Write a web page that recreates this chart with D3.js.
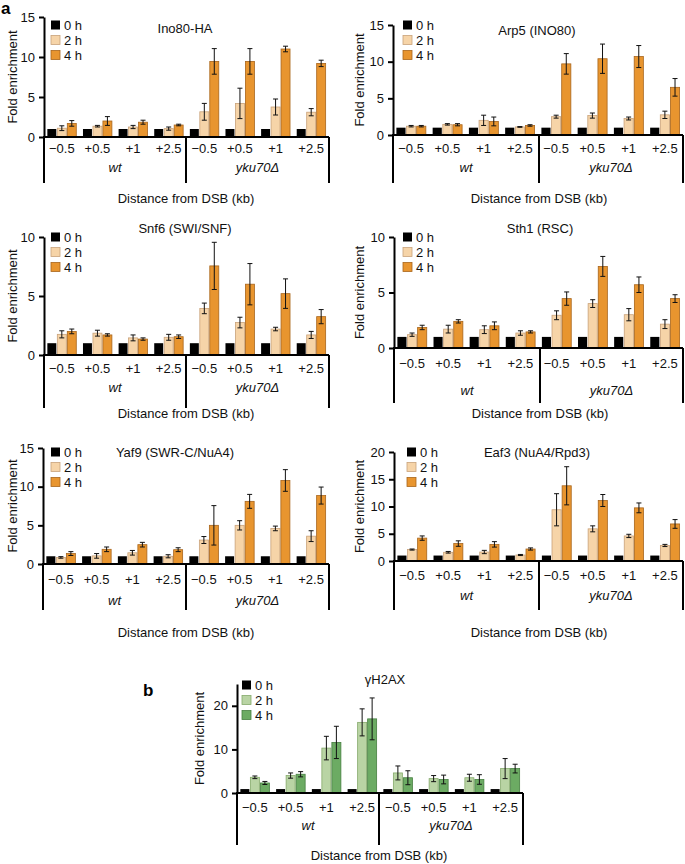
<!DOCTYPE html>
<html>
<head>
<meta charset="utf-8">
<script src="https://cdn.jsdelivr.net/npm/d3@7"></script>
<style>
  body { margin: 0; background: #fff; }
  svg { display: block; font-family: "Liberation Sans", Arial, sans-serif; }
</style>
</head>
<body>
<svg id="fig" width="685" height="864"></svg>
<script>
// categories
const positions = ["\u22120.5", "+0.5", "+1", "+2.5"];
const strains = ["wt", "yku70\u0394"];
const timepoints = ["0 h", "2 h", "4 h"];

// values: 8 entries each, wt (-0.5,+0.5,+1,+2.5) then yku70 (same)
const ino80Mean0h = [1, 1, 1, 1, 1, 1, 1, 1];
const ino80Mean2h = [1.1, 1.35, 1.25, 1.05, 3.15, 4.2, 3.75, 3.1];
const ino80Err2h  = [0.3, 0.1, 0.2, 0.2, 1.05, 1.9, 1.0, 0.45];
const ino80Mean4h = [1.7, 2.0, 1.85, 1.5, 9.45, 9.45, 11.0, 9.2];
const ino80Err4h  = [0.35, 0.55, 0.25, 0.1, 1.6, 1.6, 0.35, 0.4];

const arp5Mean0h = [1, 1, 1, 1, 1, 1, 1, 1];
const arp5Mean2h = [1.2, 1.45, 2.0, 1.1, 2.5, 2.65, 2.25, 2.75];
const arp5Err2h  = [0.1, 0.1, 0.7, 0.05, 0.2, 0.35, 0.2, 0.5];
const arp5Mean4h = [1.2, 1.4, 1.85, 1.3, 9.7, 10.4, 10.7, 6.5];
const arp5Err4h  = [0.1, 0.15, 0.6, 0.1, 1.4, 2.0, 1.5, 1.2];

const snf6Mean0h = [1, 1, 1, 1, 1, 1, 1, 1];
const snf6Mean2h = [1.75, 1.85, 1.45, 1.5, 3.95, 2.75, 2.2, 1.7];
const snf6Err2h  = [0.3, 0.25, 0.25, 0.25, 0.45, 0.45, 0.15, 0.3];
const snf6Mean4h = [2.0, 1.7, 1.35, 1.55, 7.55, 6.0, 5.2, 3.25];
const snf6Err4h  = [0.2, 0.1, 0.1, 0.15, 2.0, 1.75, 1.25, 0.6];

const sth1Mean0h = [1, 1, 1, 1, 1, 1, 1, 1];
const sth1Mean2h = [1.2, 1.7, 1.65, 1.35, 2.95, 4.0, 3.0, 2.15];
const sth1Err2h  = [0.15, 0.35, 0.35, 0.2, 0.4, 0.35, 0.55, 0.4];
const sth1Mean4h = [1.85, 2.4, 2.0, 1.45, 4.45, 7.35, 5.7, 4.45];
const sth1Err4h  = [0.2, 0.15, 0.35, 0.1, 0.6, 0.9, 0.7, 0.35];

const yaf9Mean0h = [1, 1, 1, 1, 1, 1, 1, 1];
const yaf9Mean2h = [0.85, 1.05, 1.45, 1.0, 3.1, 5.0, 4.6, 3.6];
const yaf9Err2h  = [0.1, 0.3, 0.3, 0.2, 0.45, 0.6, 0.3, 0.7];
const yaf9Mean4h = [1.35, 1.9, 2.5, 1.85, 5.0, 8.1, 10.8, 8.85];
const yaf9Err4h  = [0.25, 0.3, 0.3, 0.25, 2.55, 0.9, 1.4, 1.1];

const eaf3Mean0h = [1, 1, 1, 1, 1, 1, 1, 1];
const eaf3Mean2h = [2.1, 1.6, 1.65, 1.1, 9.4, 5.9, 4.6, 2.85];
const eaf3Err2h  = [0.1, 0.15, 0.3, 0.1, 2.95, 0.55, 0.3, 0.2];
const eaf3Mean4h = [4.2, 3.2, 3.05, 2.2, 13.8, 11.1, 9.75, 6.8];
const eaf3Err4h  = [0.4, 0.5, 0.5, 0.2, 3.5, 1.1, 0.9, 0.8];

const h2axMean0h = [0.9, 0.9, 0.9, 0.9, 0.9, 0.9, 0.9, 0.9];
const h2axMean2h = [3.6, 4.0, 10.3, 16.2, 4.6, 3.3, 3.5, 5.6];
const h2axErr2h  = [0.3, 0.6, 2.7, 3.1, 1.6, 0.7, 0.8, 2.3];
const h2axMean4h = [2.3, 4.3, 11.6, 17.0, 3.5, 3.1, 3.1, 5.6];
const h2axErr4h  = [0.35, 0.6, 3.7, 4.8, 1.6, 1.0, 1.1, 1.0];

const orange = { fill: ["#000000", "#f6d4a8", "#e8952f"], stroke: ["#000000", "#c9a27a", "#a8651c"] };
const green  = { fill: ["#000000", "#b9d4a4", "#6cab63"], stroke: ["#000000", "#86aa6c", "#467f40"] };

const panels = [
  { title: "Ino80-HA", m0: ino80Mean0h, m2: ino80Mean2h, e2: ino80Err2h, m4: ino80Mean4h, e4: ino80Err4h,
    max: 15, ticks: [0, 5, 10, 15], left: 44, right: 329, y0: 137, yTop: 17, sep: 186, bottom: 183,
    tickY: 148, strainY: 167, axTitleY: 198, titleX: 185, titleY: 28, legX: 51, legY: 25, ylabX: 12, pal: orange },
  { title: "Arp5 (INO80)", m0: arp5Mean0h, m2: arp5Mean2h, e2: arp5Err2h, m4: arp5Mean4h, e4: arp5Err4h,
    max: 15, ticks: [0, 5, 10, 15], left: 393, right: 683, y0: 135, yTop: 25, sep: 539, bottom: 183,
    tickY: 148, strainY: 167, axTitleY: 198, titleX: 537, titleY: 30, legX: 403, legY: 25, ylabX: 359, pal: orange },
  { title: "Snf6 (SWI/SNF)", m0: snf6Mean0h, m2: snf6Mean2h, e2: snf6Err2h, m4: snf6Mean4h, e4: snf6Err4h,
    max: 10, ticks: [0, 5, 10], left: 44, right: 329, y0: 355, yTop: 237, sep: 186, bottom: 408,
    tickY: 368, strainY: 387, axTitleY: 413, titleX: 185, titleY: 228, legX: 51, legY: 237, ylabX: 12, pal: orange },
  { title: "Sth1 (RSC)", m0: sth1Mean0h, m2: sth1Mean2h, e2: sth1Err2h, m4: sth1Mean4h, e4: sth1Err4h,
    max: 10, ticks: [0, 5, 10], left: 394, right: 683, y0: 348, yTop: 237, sep: 540, bottom: 403,
    tickY: 363, strainY: 390, axTitleY: 413, titleX: 540, titleY: 228, legX: 403, legY: 237, ylabX: 359, pal: orange },
  { title: "Yaf9 (SWR-C/NuA4)", m0: yaf9Mean0h, m2: yaf9Mean2h, e2: yaf9Err2h, m4: yaf9Mean4h, e4: yaf9Err4h,
    max: 15, ticks: [0, 5, 10, 15], left: 43, right: 329, y0: 564, yTop: 448, sep: 186, bottom: 610,
    tickY: 579, strainY: 600, axTitleY: 632, titleX: 175, titleY: 452, legX: 51, legY: 452, ylabX: 12, pal: orange },
  { title: "Eaf3 (NuA4/Rpd3)", m0: eaf3Mean0h, m2: eaf3Mean2h, e2: eaf3Err2h, m4: eaf3Mean4h, e4: eaf3Err4h,
    max: 20, ticks: [0, 5, 10, 15, 20], left: 394, right: 683, y0: 561, yTop: 452, sep: 539, bottom: 610,
    tickY: 575, strainY: 595, axTitleY: 632, titleX: 537, titleY: 452, legX: 407, legY: 452, ylabX: 359, pal: orange },
  { title: "\u03b3H2AX", m0: h2axMean0h, m2: h2axMean2h, e2: h2axErr2h, m4: h2axMean4h, e4: h2axErr4h,
    max: 25, ticks: [0, 10, 20], left: 237, right: 523, y0: 793, yTop: 684, sep: 379, bottom: 845,
    tickY: 807, strainY: 825, axTitleY: 855, titleX: 385, titleY: 679, legX: 242, legY: 685, ylabX: 199, pal: green }
];

const svg = d3.select("#fig");
const fs = 13;

function drawPanel(p) {
  const g = svg.append("g");
  const keys = strains.flatMap(s => positions.map(pos => s + "|" + pos));
  const x = d3.scaleBand().domain(keys).range([p.left, p.right]).paddingInner(0.16).paddingOuter(0.08);
  const xs = d3.scaleBand().domain(timepoints).range([0, x.bandwidth()]);
  const y = d3.scaleLinear().domain([0, p.max]).range([p.y0, p.yTop]);

  const means = [p.m0, p.m2, p.m4];
  const errs = [null, p.e2, p.e4];
  const rows = [];
  keys.forEach((k, i) => timepoints.forEach((t, j) => {
    rows.push({ k, t, j, v: means[j][i], e: errs[j] ? errs[j][i] : 0 });
  }));

  g.selectAll("rect.bar").data(rows).join("rect")
    .attr("class", "bar")
    .attr("x", d => x(d.k) + xs(d.t) + 0.5)
    .attr("y", d => y(d.v))
    .attr("width", xs.bandwidth() - 1)
    .attr("height", d => y(0) - y(d.v))
    .attr("fill", d => p.pal.fill[d.j])
    .attr("stroke", d => p.pal.stroke[d.j])
    .attr("stroke-width", d => d.j ? 0.8 : 0);

  const eb = rows.filter(d => d.j > 0);
  const cx = d => x(d.k) + xs(d.t) + xs.bandwidth() / 2;
  g.selectAll("line.err").data(eb).join("line")
    .attr("x1", cx).attr("x2", cx)
    .attr("y1", d => y(d.v - d.e)).attr("y2", d => y(d.v + d.e))
    .attr("stroke", "#111").attr("stroke-width", 1);
  ["lo", "hi"].forEach(side => {
    g.selectAll("line.cap" + side).data(eb).join("line")
      .attr("x1", d => cx(d) - 2.5).attr("x2", d => cx(d) + 2.5)
      .attr("y1", d => y(side === "lo" ? d.v - d.e : d.v + d.e))
      .attr("y2", d => y(side === "lo" ? d.v - d.e : d.v + d.e))
      .attr("stroke", "#111").attr("stroke-width", 1);
  });

  // y axis
  const ya = g.append("g").attr("transform", `translate(${p.left},0)`)
    .call(d3.axisLeft(y).tickValues(p.ticks).tickSize(5).tickPadding(4).tickSizeOuter(0));
  ya.select(".domain").attr("stroke-width", 2);
  ya.selectAll(".tick line").attr("stroke-width", 2);
  ya.selectAll("text").attr("font-size", fs).attr("font-family", "Liberation Sans, Arial, sans-serif").attr("fill", "#111");

  // baseline + bracket verticals
  g.append("line").attr("x1", p.left - 1).attr("x2", p.right).attr("y1", p.y0).attr("y2", p.y0)
    .attr("stroke", "#000").attr("stroke-width", 2);
  [p.left, p.sep, p.right].forEach(xv => {
    g.append("line").attr("x1", xv).attr("x2", xv).attr("y1", p.y0).attr("y2", p.bottom)
      .attr("stroke", "#000").attr("stroke-width", 2);
  });

  // category labels
  g.selectAll("text.pos").data(keys).join("text")
    .attr("x", k => x(k) + x.bandwidth() / 2)
    .attr("y", p.tickY).attr("dy", "0.35em")
    .attr("text-anchor", "middle").attr("font-size", fs).attr("fill", "#111")
    .text(k => k.split("|")[1]);
  g.selectAll("text.strain").data(strains).join("text")
    .attr("x", (s, i) => i === 0 ? (p.left + p.sep) / 2 : (p.sep + p.right) / 2)
    .attr("y", p.strainY).attr("dy", "0.35em")
    .attr("text-anchor", "middle").attr("font-size", fs).attr("font-style", "italic").attr("fill", "#111")
    .text(s => s);

  g.append("text").attr("x", p.sep).attr("y", p.axTitleY).attr("dy", "0.35em")
    .attr("text-anchor", "middle").attr("font-size", fs).attr("fill", "#111")
    .text("Distance from DSB (kb)");

  g.append("text").attr("transform", `translate(${p.ylabX},${(p.y0 + p.yTop) / 2}) rotate(-90)`)
    .attr("dy", "0.35em").attr("text-anchor", "middle").attr("font-size", fs).attr("fill", "#111")
    .text("Fold enrichment");

  g.append("text").attr("x", p.titleX).attr("y", p.titleY).attr("dy", "0.35em")
    .attr("text-anchor", "middle").attr("font-size", fs).attr("fill", "#111")
    .text(p.title);

  // legend
  const lg = g.append("g").attr("transform", `translate(${p.legX},${p.legY})`);
  timepoints.forEach((t, j) => {
    lg.append("rect").attr("x", 0).attr("y", j * 15 - 4.5).attr("width", 9).attr("height", 9)
      .attr("fill", p.pal.fill[j]).attr("stroke", p.pal.stroke[j]).attr("stroke-width", j ? 0.8 : 0);
    lg.append("text").attr("x", 13).attr("y", j * 15).attr("dy", "0.35em")
      .attr("font-size", fs).attr("fill", "#111").text(t);
  });
}

panels.forEach(drawPanel);

svg.append("text").attr("x", 1).attr("y", 14).attr("font-size", 17).attr("font-weight", "bold").text("a");
svg.append("text").attr("x", 143).attr("y", 696).attr("font-size", 17).attr("font-weight", "bold").text("b");
</script>
</body>
</html>
